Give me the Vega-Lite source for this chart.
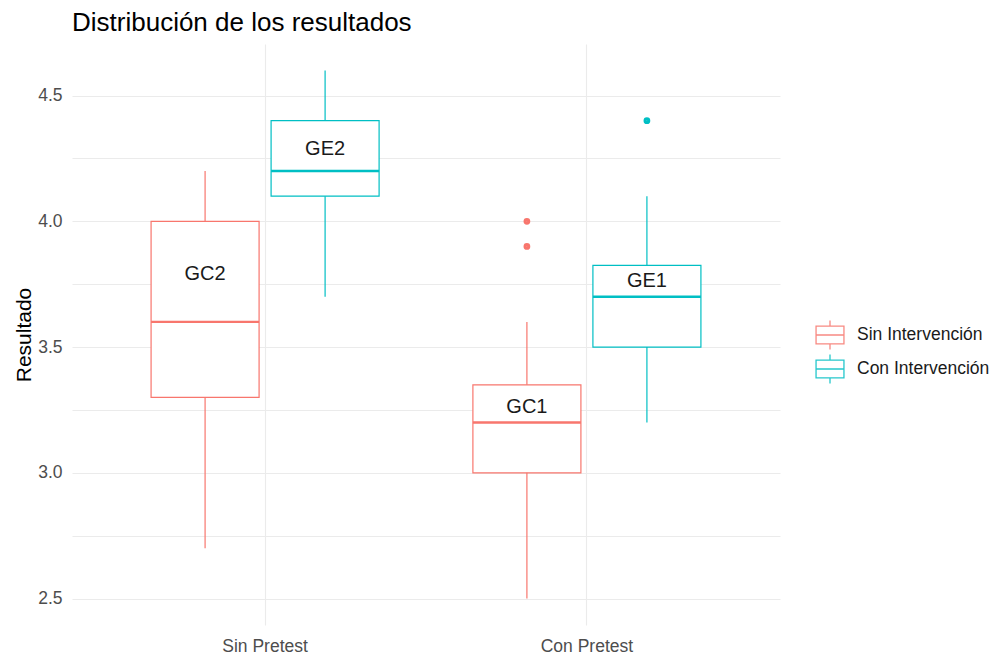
{
  "$schema": "https://vega.github.io/schema/vega-lite/v6.json",
  "width": 708,
  "height": 581,
  "autosize": {"type": "none"},
  "padding": {"left": 72, "top": 44, "right": 213, "bottom": 31},
  "background": "white",
  "config": {
    "font": "Liberation Sans",
    "view": {"stroke": null},
    "axis": {"domain": false, "ticks": false, "gridColor": "#EBEBEB", "gridWidth": 1.1, "labelColor": "#4D4D4D", "labelFontSize": 17.5, "titleFontSize": 21, "titleFontWeight": "normal", "titleColor": "black"}
  },
  "title": {"text": "Distribución de los resultados", "anchor": "start", "frame": "group", "fontSize": 26, "fontWeight": "normal", "color": "black", "offset": 8},
  "datasets": {
    "boxes": [
      {"pretest": "Sin Pretest", "grupo": "Sin Intervención", "lower": 2.7, "q1": 3.3, "median": 3.6, "q3": 4.0, "upper": 4.2, "label": "GC2", "label_y": 3.79},
      {"pretest": "Sin Pretest", "grupo": "Con Intervención", "lower": 3.7, "q1": 4.1, "median": 4.2, "q3": 4.4, "upper": 4.6, "label": "GE2", "label_y": 4.288},
      {"pretest": "Con Pretest", "grupo": "Sin Intervención", "lower": 2.5, "q1": 3.0, "median": 3.2, "q3": 3.35, "upper": 3.6, "label": "GC1", "label_y": 3.262},
      {"pretest": "Con Pretest", "grupo": "Con Intervención", "lower": 3.2, "q1": 3.5, "median": 3.7, "q3": 3.825, "upper": 4.1, "label": "GE1", "label_y": 3.762}
    ],
    "outliers": [
      {"pretest": "Con Pretest", "grupo": "Sin Intervención", "value": 4.0},
      {"pretest": "Con Pretest", "grupo": "Sin Intervención", "value": 3.9},
      {"pretest": "Con Pretest", "grupo": "Con Intervención", "value": 4.4}
    ]
  },
  "encoding": {
    "x": {
      "field": "pretest", "type": "nominal", "sort": ["Sin Pretest", "Con Pretest"],
      "scale": {"paddingInner": 0, "paddingOuter": 0.1},
      "axis": {"title": null, "labelAngle": 0, "labelPadding": 12, "grid": true, "bandPosition": 0.5}
    },
    "xOffset": {
      "field": "grupo", "type": "nominal", "sort": ["Sin Intervención", "Con Intervención"],
      "scale": {"paddingInner": 0.1, "paddingOuter": 0.3908}
    }
  },
  "layer": [
    {
      "data": {"name": "boxes"},
      "mark": {"type": "rule", "strokeWidth": 1.2},
      "encoding": {
        "y": {
          "field": "lower", "type": "quantitative",
          "scale": {"domain": [2.395, 4.705], "nice": false, "zero": false},
          "axis": {"title": "Resultado", "values": [2.5, 2.75, 3, 3.25, 3.5, 3.75, 4, 4.25, 4.5], "labelExpr": "(datum.value * 2) % 1 == 0 ? format(datum.value, '.1f') : ''", "labelPadding": 10, "titlePadding": 3}
        },
        "y2": {"field": "upper"},
        "stroke": {
          "field": "grupo", "type": "nominal",
          "scale": {"domain": ["Sin Intervención", "Con Intervención"], "range": ["#F8766D", "#00BFC4"]},
          "legend": {
            "title": null, "orient": "none", "legendX": 742, "legendY": 275,
            "padding": 0, "rowPadding": -2,
            "symbolType": "M-0.93,-0.59H0.93V0.59H-0.93Z M-0.93,0H0.93 M0,-0.59V-0.97 M0,0.59V0.97",
            "symbolSize": 900, "symbolStrokeWidth": 1.3, "symbolFillColor": "white", "labelOffset": 11,
            "labelFontSize": 17.5, "labelColor": "#1A1A1A", "symbolOpacity": 0.85
          }
        }
      }
    },
    {
      "data": {"name": "boxes"},
      "mark": {"type": "bar", "fill": "white", "strokeWidth": 1.2},
      "encoding": {
        "y": {"field": "q1", "type": "quantitative"},
        "y2": {"field": "q3"},
        "stroke": {"field": "grupo", "type": "nominal"}
      }
    },
    {
      "data": {"name": "boxes"},
      "mark": {"type": "bar", "fill": "white", "strokeWidth": 2.4},
      "encoding": {
        "y": {"field": "median", "type": "quantitative"},
        "y2": {"field": "median"},
        "stroke": {"field": "grupo", "type": "nominal"}
      }
    },
    {
      "data": {"name": "outliers"},
      "mark": {"type": "point", "filled": false, "opacity": 1, "size": 10, "strokeWidth": 3.6},
      "encoding": {
        "y": {"field": "value", "type": "quantitative"},
        "stroke": {"field": "grupo", "type": "nominal"}
      }
    },
    {
      "data": {"name": "boxes"},
      "mark": {"type": "text", "fontSize": 20, "color": "#1A1A1A", "baseline": "middle", "align": "center"},
      "encoding": {
        "y": {"field": "label_y", "type": "quantitative"},
        "text": {"field": "label"}
      }
    }
  ]
}
